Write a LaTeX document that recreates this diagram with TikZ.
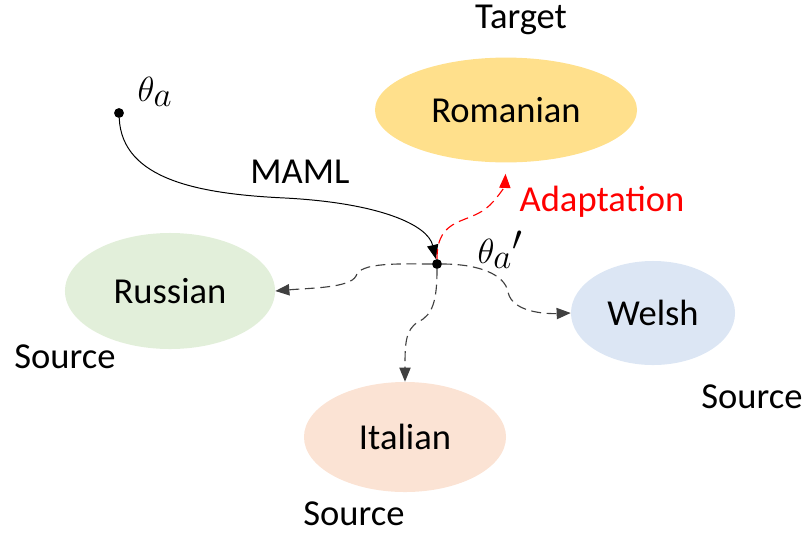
\documentclass[tikz,border=0pt]{standalone}
\usepackage{fontspec}
\setmainfont{Carlito}
\usepackage{tikz}
\usetikzlibrary{positioning}
\usetikzlibrary{shapes.geometric}
\usetikzlibrary{arrows.meta}
\definecolor{romcol}{HTML}{FFE08C}
\definecolor{ruscol}{HTML}{E2EFDA}
\definecolor{welcol}{HTML}{DCE6F4}
\definecolor{itacol}{HTML}{FBE3D4}
\tikzset{
  lang/.style={ellipse, inner sep=0pt},
  pt/.style={circle, fill=black, inner sep=0pt, minimum size=7pt},
  param/.style={font=\fontsize{33}{36}\selectfont},
  transfer/.style={dashed, dash pattern=on 7pt off 4pt, line width=0.8pt, black!75,
    -{Triangle[length=10pt,width=8pt]}},
}
\begin{document}
\begin{tikzpicture}[x=0.025cm, y=-0.025cm, font=\fontsize{26}{30}\selectfont]

    \useasboundingbox (0,0) rectangle (808,534);

    % languages
    \node[lang, fill=romcol, minimum width=6.55cm, minimum height=2.62cm] (rom) at (506,110) {Romanian};
    \node[lang, fill=ruscol, minimum width=5.25cm, minimum height=2.9cm] (rus) at (170,291) {Russian};
    \node[lang, fill=welcol, minimum width=4.1cm, minimum height=2.6cm] (wel) at (653,313) {Welsh};
    \node[lang, fill=itacol, minimum width=5.05cm, minimum height=2.75cm] (ita) at (405,437) {Italian};

    \node (tgt) at (521,20) {Target};
    \node (srcrus) at (65,357) {Source};
    \node (srcwel) at (752,397) {Source};
    \node[inner sep=0pt] (srcita) at (354,514) {Source};

    % parameters
    \node[pt] (th) at (119,113) {};
    \node[param] (thlab) at (155,92) {$\theta_a$};
    \node[pt] (thp) at (437,264) {};
    \node[param] (thplab) at (500,250) {$\theta_a{}'$};

    \draw[line width=0.7pt, -{Triangle[length=10pt,width=8pt]}] (th) .. controls (122,180) and (200,194) .. (285,198)
        .. controls (380,203) and (428,225) .. (thp);
    \node (maml) at (300,172) {MAML};

    \draw[transfer, red, shorten >=0.28cm] (thp) .. controls (437,215) and (470,225) .. (490,205)
        .. controls (500,195) and (505,185) .. (rom.south);
    \node[red] (adapt) at (602,202) {Adaptation};

    \draw[transfer] (thp) .. controls (400,264) and (360,262) .. (356,276)
        .. controls (350,288) and (310,288) .. (rus.east);
    \draw[transfer] (thp) .. controls (480,264) and (505,275) .. (508,292)
        .. controls (512,312) and (545,314) .. (wel.west);
    \draw[transfer] (thp) .. controls (437,300) and (433,315) .. (418,322)
        .. controls (405,330) and (405,345) .. (ita.north);
\end{tikzpicture}
\end{document}
